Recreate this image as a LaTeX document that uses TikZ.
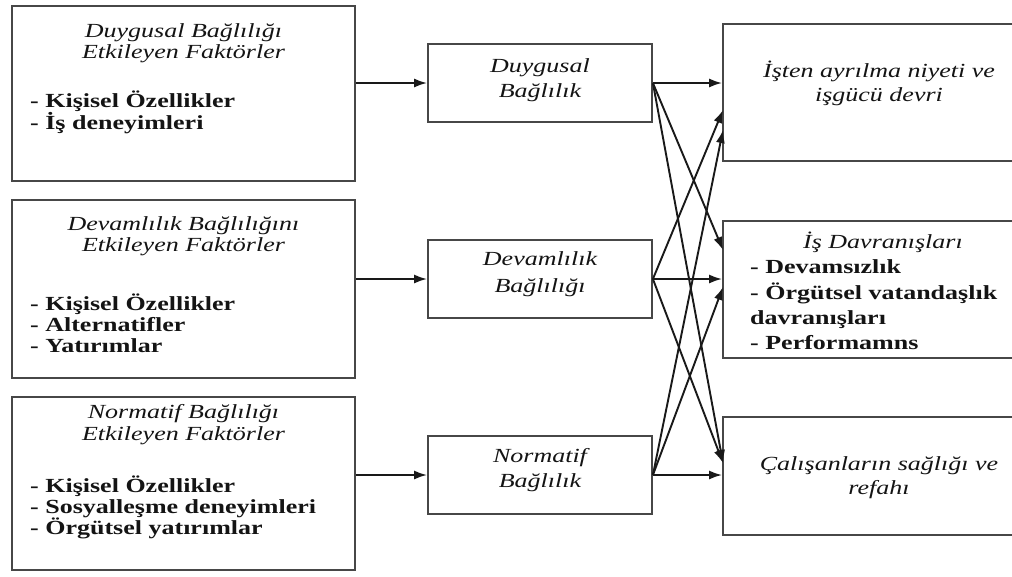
\documentclass[tikz,border=0pt]{standalone}
\usepackage{fontspec}
\setmainfont{Liberation Serif}[FakeStretch=1.3]
\usetikzlibrary{arrows.meta}
\begin{document}
\begin{tikzpicture}[x=1pt,y=-1pt,
  box/.style={draw=black!72, line width=1.8pt, inner sep=0pt, rectangle},
  tit/.style={font=\fontsize{20}{22}\selectfont\itshape, text=black!92, inner sep=0pt, anchor=base},
  bul/.style={font=\fontsize{20}{22}\selectfont\bfseries, text=black!92, inner sep=0pt, anchor=base west},
  arr/.style={-{Latex[length=13pt,width=9pt]}, line width=1.9pt, black!90}]
\clip (0,0) rectangle (1012,576);
\fill[white] (0,0) rectangle (1012,576);
% left boxes
\node[box, minimum width=343pt, minimum height=175pt] (L1) at (183.5,93.5) {};
\node[box, minimum width=343pt, minimum height=178pt] (L2) at (183.5,289) {};
\node[box, minimum width=343pt, minimum height=173pt] (L3) at (183.5,483.5) {};
% middle boxes
\node[box, minimum width=224pt, minimum height=78pt] (M1) at (540,83) {};
\node[box, minimum width=224pt, minimum height=78pt] (M2) at (540,279) {};
\node[box, minimum width=224pt, minimum height=78pt] (M3) at (540,475) {};
% right boxes
\node[box, minimum width=317pt, minimum height=137pt] (R1) at (881.5,92.5) {};
\node[box, minimum width=317pt, minimum height=137pt] (R2) at (881.5,289.5) {};
\node[box, minimum width=317pt, minimum height=118pt] (R3) at (881.5,476) {};
% left texts
\node[tit] (L1a) at (183.5,37) {Duygusal Bağlılığı};
\node[tit] (L1b) at (183.5,58) {Etkileyen Faktörler};
\node[bul] (L1c) at (30,107) {- Kişisel Özellikler};
\node[bul] (L1d) at (30,129) {- İş deneyimleri};
\node[tit] (L2a) at (183.5,230) {Devamlılık Bağlılığını};
\node[tit] (L2b) at (183.5,251) {Etkileyen Faktörler};
\node[bul] (L2c) at (30,310) {- Kişisel Özellikler};
\node[bul] (L2d) at (30,331) {- Alternatifler};
\node[bul] (L2e) at (30,352) {- Yatırımlar};
\node[tit] (L3a) at (183.5,418) {Normatif Bağlılığı};
\node[tit] (L3b) at (183.5,440) {Etkileyen Faktörler};
\node[bul] (L3c) at (30,492) {- Kişisel Özellikler};
\node[bul] (L3d) at (30,513) {- Sosyalleşme deneyimleri};
\node[bul] (L3e) at (30,534) {- Örgütsel yatırımlar};
% middle texts
\node[tit] (M1a) at (540,72) {Duygusal};
\node[tit] (M1b) at (540,97) {Bağlılık};
\node[tit] (M2a) at (540,265) {Devamlılık};
\node[tit] (M2b) at (540,292) {Bağlılığı};
\node[tit] (M3a) at (540,462) {Normatif};
\node[tit] (M3b) at (540,487) {Bağlılık};
% right texts
\node[tit] (R1a) at (879,77) {İşten ayrılma niyeti ve};
\node[tit] (R1b) at (879,101) {işgücü devri};
\node[tit] (R2a) at (883,248) {İş Davranışları};
\node[bul] (R2b) at (750,273) {- Devamsızlık};
\node[bul] (R2c) at (750,299) {- Örgütsel vatandaşlık};
\node[bul] (R2d) at (750,324) {davranışları};
\node[bul] (R2e) at (750,349) {- Performamns};
\node[tit] (R3a) at (879,470) {Çalışanların sağlığı ve};
\node[tit] (R3b) at (879,494) {refahı};
% arrow end coordinates
\coordinate (R1d) at (723,110);
\coordinate (R1n) at (723,130);
\coordinate (R2d) at (723,250);
\coordinate (R2n) at (723,287);
\coordinate (R3d) at (723,463);
\coordinate (R3v) at (723,463);
% left to middle
\draw[arr] (L1.east |- M1.west) -- (M1.west);
\draw[arr] (L2.east |- M2.west) -- (M2.west);
\draw[arr] (L3.east |- M3.west) -- (M3.west);
% middle to right
\draw[arr] (M1.east) -- (M1.east -| R1.west);
\draw[arr] (M1.east) -- (R2d);
\draw[arr] (M1.east) -- (R3d);
\draw[arr] (M2.east) -- (R1d);
\draw[arr] (M2.east) -- (M2.east -| R2.west);
\draw[arr] (M2.east) -- (R3v);
\draw[arr] (M3.east) -- (R1n);
\draw[arr] (M3.east) -- (R2n);
\draw[arr] (M3.east) -- (M3.east -| R3.west);
\end{tikzpicture}
\end{document}
